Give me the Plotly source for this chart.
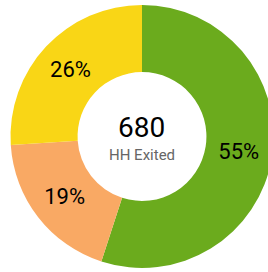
import plotly.graph_objects as go

labels = ["Exited A", "Exited B", "Exited C"]
values = [374, 129, 177]
colors = ["#6BAB1D", "#F9A964", "#F9D616"]
center_value = "680"
center_label = "HH Exited"

W, H = 284, 272
fig = go.Figure(go.Pie(
    labels=labels,
    values=values,
    hole=0.49,
    sort=False,
    direction="clockwise",
    rotation=0,
    marker=dict(colors=colors, line=dict(width=0)),
    textinfo="percent",
    textposition="inside",
    insidetextorientation="horizontal",
    textfont=dict(family="Roboto", size=22, color="#000000"),
    domain=dict(x=[0, 1], y=[4 / H, 267 / H]),
    showlegend=False,
    hoverinfo="label+value+percent",
))

fig.add_annotation(text=center_value, x=141 / W, y=1 - 127 / H, xref="paper", yref="paper",
                   showarrow=False, font=dict(family="Roboto", size=28, color="#000000"),
                   xanchor="center", yanchor="middle")
fig.add_annotation(text=center_label, x=142 / W, y=1 - 155 / H, xref="paper", yref="paper",
                   showarrow=False, font=dict(family="Roboto", size=15, color="#666666"),
                   xanchor="center", yanchor="middle")

fig.update_layout(
    width=W, height=H,
    margin=dict(l=0, r=0, t=0, b=0),
    paper_bgcolor="white",
    plot_bgcolor="white",
)

fig.write_html("out.html", config={"displayModeBar": False},
               post_script="document.body.style.margin='0';document.body.style.overflow='hidden';document.documentElement.style.overflow='hidden';")
